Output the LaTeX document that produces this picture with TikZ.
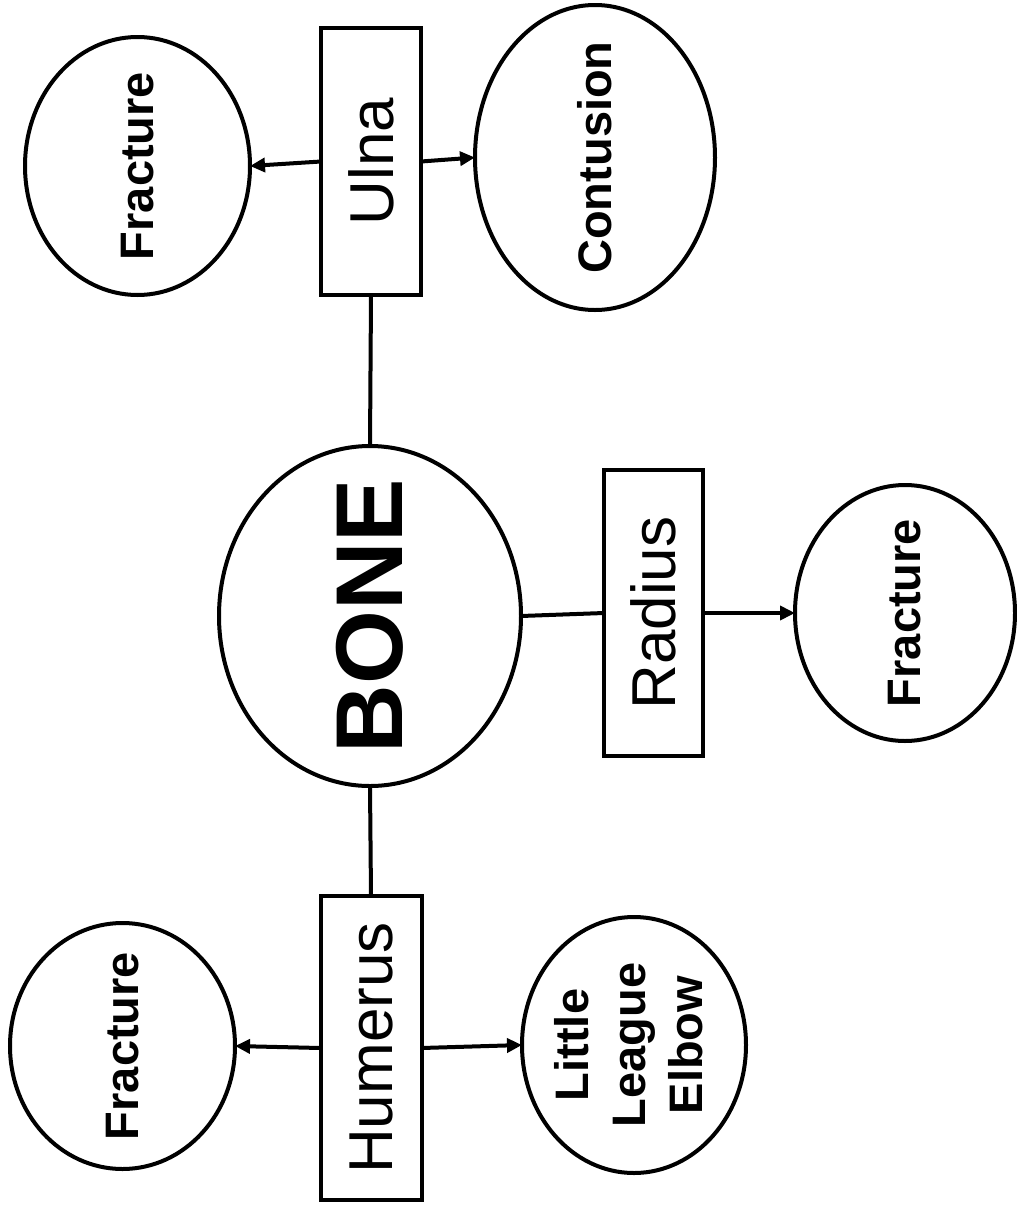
\documentclass[tikz,border=0pt]{standalone}
\usepackage{fontspec}
\setmainfont{Liberation Sans}
\usepackage{graphicx}
\usetikzlibrary{shapes.geometric,arrows.meta}
\tikzset{
  shp/.style={draw=black, line width=4pt, inner sep=0pt, outer sep=0pt},
  oval/.style={shp, ellipse},
  box/.style={shp, rectangle},
  conn/.style={line width=4pt, draw=black},
  arr/.style={conn, -{Triangle[length=15pt,width=14pt]}},
  bigtxt/.style={font=\fontsize{95}{100}\selectfont\bfseries, inner sep=0pt},
  midtxt/.style={font=\fontsize{62}{70}\selectfont, inner sep=0pt},
  smalltxt/.style={font=\fontsize{47}{57}\selectfont\bfseries, inner sep=0pt},
}
\begin{document}
\begin{tikzpicture}[x=1pt,y=-1pt]
\useasboundingbox[fill=white] (0,0) rectangle (1017,1208);
% central node
\node[oval, minimum width=302pt, minimum height=340pt,
  label={[bigtxt]center:\rotatebox{90}{BONE}}] (bone) at (370,616) {};
% boxes
\node[box, minimum width=100pt, minimum height=267pt,
  label={[midtxt]center:\rotatebox{90}{Ulna}}] (ulna) at (371,161.5) {};
\node[box, minimum width=99pt, minimum height=286pt,
  label={[midtxt]center:\rotatebox{90}{Radius}}] (radius) at (653.5,613) {};
\node[box, minimum width=101pt, minimum height=304pt,
  label={[midtxt]center:\rotatebox{90}{Humerus}}] (hum) at (371,1048) {};
% outer ovals
\node[oval, minimum width=225pt, minimum height=258pt,
  label={[smalltxt]center:\rotatebox{90}{Fracture}}] (f1) at (137.5,166) {};
\node[oval, minimum width=240pt, minimum height=305pt,
  label={[smalltxt]center:\rotatebox{90}{Contusion}}] (cont) at (595,157.5) {};
\node[oval, minimum width=220pt, minimum height=256pt,
  label={[smalltxt]center:\rotatebox{90}{Fracture}}] (f2) at (905,613) {};
\node[oval, minimum width=225pt, minimum height=246pt,
  label={[smalltxt]center:\rotatebox{90}{Fracture}}] (f3) at (122.5,1046) {};
\node[oval, minimum width=224pt, minimum height=256pt,
  label={[smalltxt]center:\rotatebox{90}{\begin{tabular}{@{}c@{}}Little\\League\\Elbow\end{tabular}}}] (lle) at (634,1045) {};
% connectors
\draw[conn] (ulna.south) -- (bone.north);
\draw[conn] (bone.south) -- (hum.north);
\draw[conn] (bone.east) -- (radius.west);
\draw[arr] (radius.east) -- (f2.west);
\draw[arr] (ulna.west) -- (f1.east);
\draw[arr] (ulna.east) -- (cont.west);
\draw[arr] (hum.west) -- (f3.east);
\draw[arr] (hum.east) -- (lle.west);
\end{tikzpicture}
\end{document}
